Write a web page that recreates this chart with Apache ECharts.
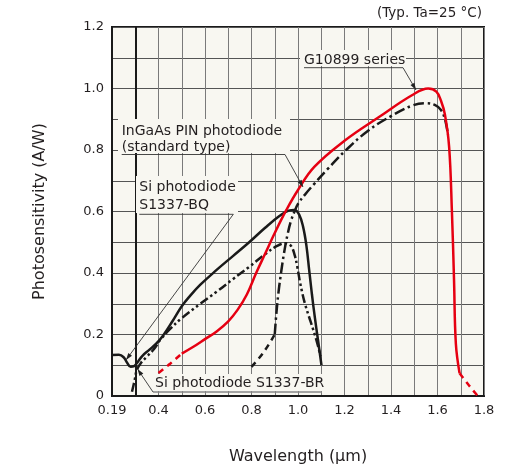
<!DOCTYPE html>
<html>
<head>
<meta charset="utf-8">
<script src="https://cdn.jsdelivr.net/npm/echarts@6/dist/echarts.min.js"></script>
<style>
  html, body { margin: 0; padding: 0; background: #fff; }
  #chart { width: 532px; height: 473px; }
</style>
</head>
<body>
<div id="chart"></div>
<script>
// tick labels
const xLabelAt = [0.2, 0.4, 0.6, 0.8, 1.0, 1.2, 1.4, 1.6, 1.8]
const xLabelText = ['0.19', '0.4', '0.6', '0.8', '1.0', '1.2', '1.4', '1.6', '1.8']
const yLabelAt = [0, 0.2, 0.4, 0.6, 0.8, 1.0, 1.2]
const yLabelText = ['0', '0.2', '0.4', '0.6', '0.8', '1.0', '1.2']

// Si photodiode S1337-BQ (solid black)
const s1337BQ = [
  [0.2, 0.133], [0.23, 0.134], [0.25, 0.126], [0.265, 0.108], [0.28, 0.095], [0.295, 0.097],
  [0.31, 0.11], [0.33, 0.13], [0.36, 0.15], [0.39, 0.17], [0.42, 0.197], [0.46, 0.243],
  [0.5, 0.292], [0.535, 0.325], [0.58, 0.362], [0.65, 0.41], [0.72, 0.455], [0.79, 0.5],
  [0.86, 0.548], [0.92, 0.585], [0.96, 0.603], [0.985, 0.605], [1.005, 0.59], [1.022, 0.55],
  [1.036, 0.49], [1.048, 0.41], [1.06, 0.33], [1.072, 0.258], [1.086, 0.182], [1.101, 0.1]
]

// Si photodiode S1337-BR (dash-dot-dot black)
const s1337BR = [
  [0.286, 0.014], [0.297, 0.05], [0.307, 0.085], [0.325, 0.108], [0.35, 0.128], [0.38, 0.152],
  [0.41, 0.185], [0.45, 0.218], [0.5, 0.253], [0.58, 0.3], [0.65, 0.339], [0.72, 0.38],
  [0.79, 0.42], [0.86, 0.462], [0.91, 0.488], [0.944, 0.497], [0.968, 0.49], [0.985, 0.46],
  [0.997, 0.42], [1.01, 0.365], [1.03, 0.3], [1.055, 0.24], [1.078, 0.185], [1.097, 0.13]
]

// InGaAs PIN photodiode (standard type)
const ingaasLow = [[0.8, 0.095], [0.85, 0.14], [0.9, 0.2]]
const ingaas = [
  [0.9, 0.2], [0.906, 0.26], [0.915, 0.33], [0.927, 0.4], [0.94, 0.465], [0.955, 0.525],
  [0.97, 0.57], [0.985, 0.6], [1.0, 0.625], [1.03, 0.655], [1.07, 0.69], [1.13, 0.74],
  [1.2, 0.795], [1.3, 0.862], [1.4, 0.91], [1.49, 0.944], [1.55, 0.952], [1.59, 0.946],
  [1.615, 0.93], [1.632, 0.9], [1.645, 0.85]
]

// G10899 series (red)
const g10899Low = [[0.4, 0.075], [0.45, 0.105], [0.5, 0.138]]
const g10899 = [
  [0.5, 0.138], [0.55, 0.16], [0.6, 0.185], [0.65, 0.21], [0.7, 0.243], [0.74, 0.28],
  [0.78, 0.33], [0.82, 0.4], [0.86, 0.465], [0.9, 0.53], [0.95, 0.605], [1.0, 0.67],
  [1.07, 0.745], [1.2, 0.83], [1.35, 0.908], [1.49, 0.978], [1.56, 1.0], [1.595, 0.99],
  [1.615, 0.96], [1.632, 0.915], [1.65, 0.81], [1.662, 0.6], [1.671, 0.38], [1.679, 0.17],
  [1.695, 0.074]
]
const g10899High = [[1.695, 0.074], [1.735, 0.035], [1.773, 0.0]]

const RED = '#e60012'
const BLACK = '#1a1a1a'
const TEXT = '#231f20'
const PLOT_BG = '#f8f7f1'
const FONT = '"DejaVu Sans", Verdana, sans-serif'

let findLabel = (v, at, text) => {
  for (let i = 0; i < at.length; i++) {
    if (Math.abs(v - at[i]) < 1e-6) return text[i]
  }
  return ''
}

let curve = (name, data, color, type, z) => ({
  name: name,
  type: 'line',
  data: data,
  symbol: 'none',
  smooth: 0.4,
  z: z,
  lineStyle: { color: color, width: 2.5, type: type },
  emphasis: { disabled: true }
})

// annotation helpers (pixel positions)
let box = (x, y, w, h) => ({
  type: 'rect', z: 50, silent: true,
  shape: { x: x, y: y, width: w, height: h },
  style: { fill: PLOT_BG }
})
let label = (x, y, text) => ({
  type: 'text', z: 51, silent: true, x: x, y: y,
  style: { text: text, fontSize: 14, fontFamily: FONT, fill: TEXT, verticalAlign: 'middle' }
})
let leader = (pts, color, width) => ({
  type: 'polyline', z: 52, silent: true,
  shape: { points: pts },
  style: { stroke: color || '#333', lineWidth: width || 0.9, fill: null }
})
let arrow = (x1, y1, x2, y2) => {
  let dx = x2 - x1, dy = y2 - y1
  let l = Math.sqrt(dx * dx + dy * dy)
  let ux = dx / l, uy = dy / l
  let bx = x2 - ux * 7, by = y2 - uy * 7
  return {
    type: 'polygon', z: 52, silent: true,
    shape: { points: [[x2, y2], [bx - uy * 2.3, by + ux * 2.3], [bx + uy * 2.3, by - ux * 2.3]] },
    style: { fill: '#222' }
  }
}

let chart = echarts.init(document.getElementById('chart'), null, { renderer: 'canvas' })

let option = {
  animation: false,
  backgroundColor: '#fff',
  textStyle: { fontFamily: FONT },
  grid: {
    left: 112, right: 48, top: 27, bottom: 77,
    show: true,
    backgroundColor: PLOT_BG,
    borderColor: BLACK,
    borderWidth: 2
  },
  xAxis: {
    type: 'value',
    min: 0.2,
    max: 1.8,
    interval: 0.1,
    name: 'Wavelength (μm)',
    nameLocation: 'middle',
    nameGap: 53,
    nameTextStyle: { fontSize: 16, color: TEXT, fontFamily: FONT },
    axisLine: { show: true, lineStyle: { color: BLACK, width: 2 } },
    axisTick: { show: false },
    axisLabel: {
      color: TEXT, fontSize: 13, fontFamily: FONT, margin: 8,
      showMinLabel: true, showMaxLabel: true,
      formatter: v => findLabel(v, xLabelAt, xLabelText)
    },
    splitLine: { show: true, lineStyle: { color: '#7a7a7a', width: 1 } }
  },
  yAxis: {
    type: 'value',
    min: 0,
    max: 1.2,
    interval: 0.1,
    name: 'Photosensitivity (A/W)',
    nameLocation: 'middle',
    nameGap: 64,
    nameTextStyle: { fontSize: 16, color: TEXT, fontFamily: FONT },
    axisLine: { show: true, lineStyle: { color: BLACK, width: 2 } },
    axisTick: { show: false },
    axisLabel: {
      color: TEXT, fontSize: 13, fontFamily: FONT, margin: 8,
      showMinLabel: true, showMaxLabel: true,
      formatter: v => findLabel(v, yLabelAt, yLabelText)
    },
    splitLine: { show: true, lineStyle: { color: '#555', width: 1 } }
  },
  series: [
    Object.assign(curve('Si photodiode S1337-BQ', s1337BQ, BLACK, 'solid', 3), {
      markLine: {
        silent: true,
        symbol: 'none',
        label: { show: false },
        lineStyle: { color: BLACK, width: 2, type: 'solid' },
        data: [{ xAxis: 0.3 }]
      }
    }),
    curve('Si photodiode S1337-BR', s1337BR, BLACK, [9, 3, 2.5, 3, 2.5, 3], 4),
    curve('InGaAs low', ingaasLow, BLACK, [6, 5], 4),
    curve('InGaAs PIN photodiode', ingaas, BLACK, [11, 3.5, 2.5, 3.5], 4),
    curve('G10899 low', g10899Low, RED, [6, 5], 5),
    curve('G10899 series', g10899, RED, 'solid', 5),
    curve('G10899 high', g10899High, RED, [6, 5], 5)
  ],
  graphic: [
    {
      type: 'text', z: 51, silent: true, x: 482, y: 13,
      style: { text: '(Typ. Ta=25 °C)', fontSize: 13.5, fontFamily: FONT, fill: TEXT, align: 'right', verticalAlign: 'middle' }
    },
    // G10899 series
    box(300, 50, 106, 16),
    label(304, 60, 'G10899 series'),
    leader([[304, 67.7], [403, 67.7], [416, 90]]),
    arrow(403, 67.7, 416, 90),
    // InGaAs
    box(118, 119, 172, 34),
    label(121.7, 131, 'InGaAs PIN photodiode'),
    label(121.7, 147, '(standard type)'),
    leader([[121.7, 154.5], [285, 154.5], [303, 187]]),
    arrow(285, 154.5, 303, 187),
    // S1337-BQ
    box(136, 176, 102, 37),
    label(139.3, 187.5, 'Si photodiode'),
    label(139.3, 205, 'S1337-BQ'),
    leader([[139.3, 214.3], [233.3, 214.3], [126, 360]]),
    arrow(233.3, 214.3, 126, 360),
    // S1337-BR
    box(150, 374, 175, 17),
    label(155, 383.5, 'Si photodiode S1337-BR'),
    leader([[322, 392], [153, 392]], '#888', 1.6),
    leader([[153, 392], [137.5, 369]]),
    arrow(153, 392, 137.5, 369)
  ]
}

chart.setOption(option)
</script>
</body>
</html>
